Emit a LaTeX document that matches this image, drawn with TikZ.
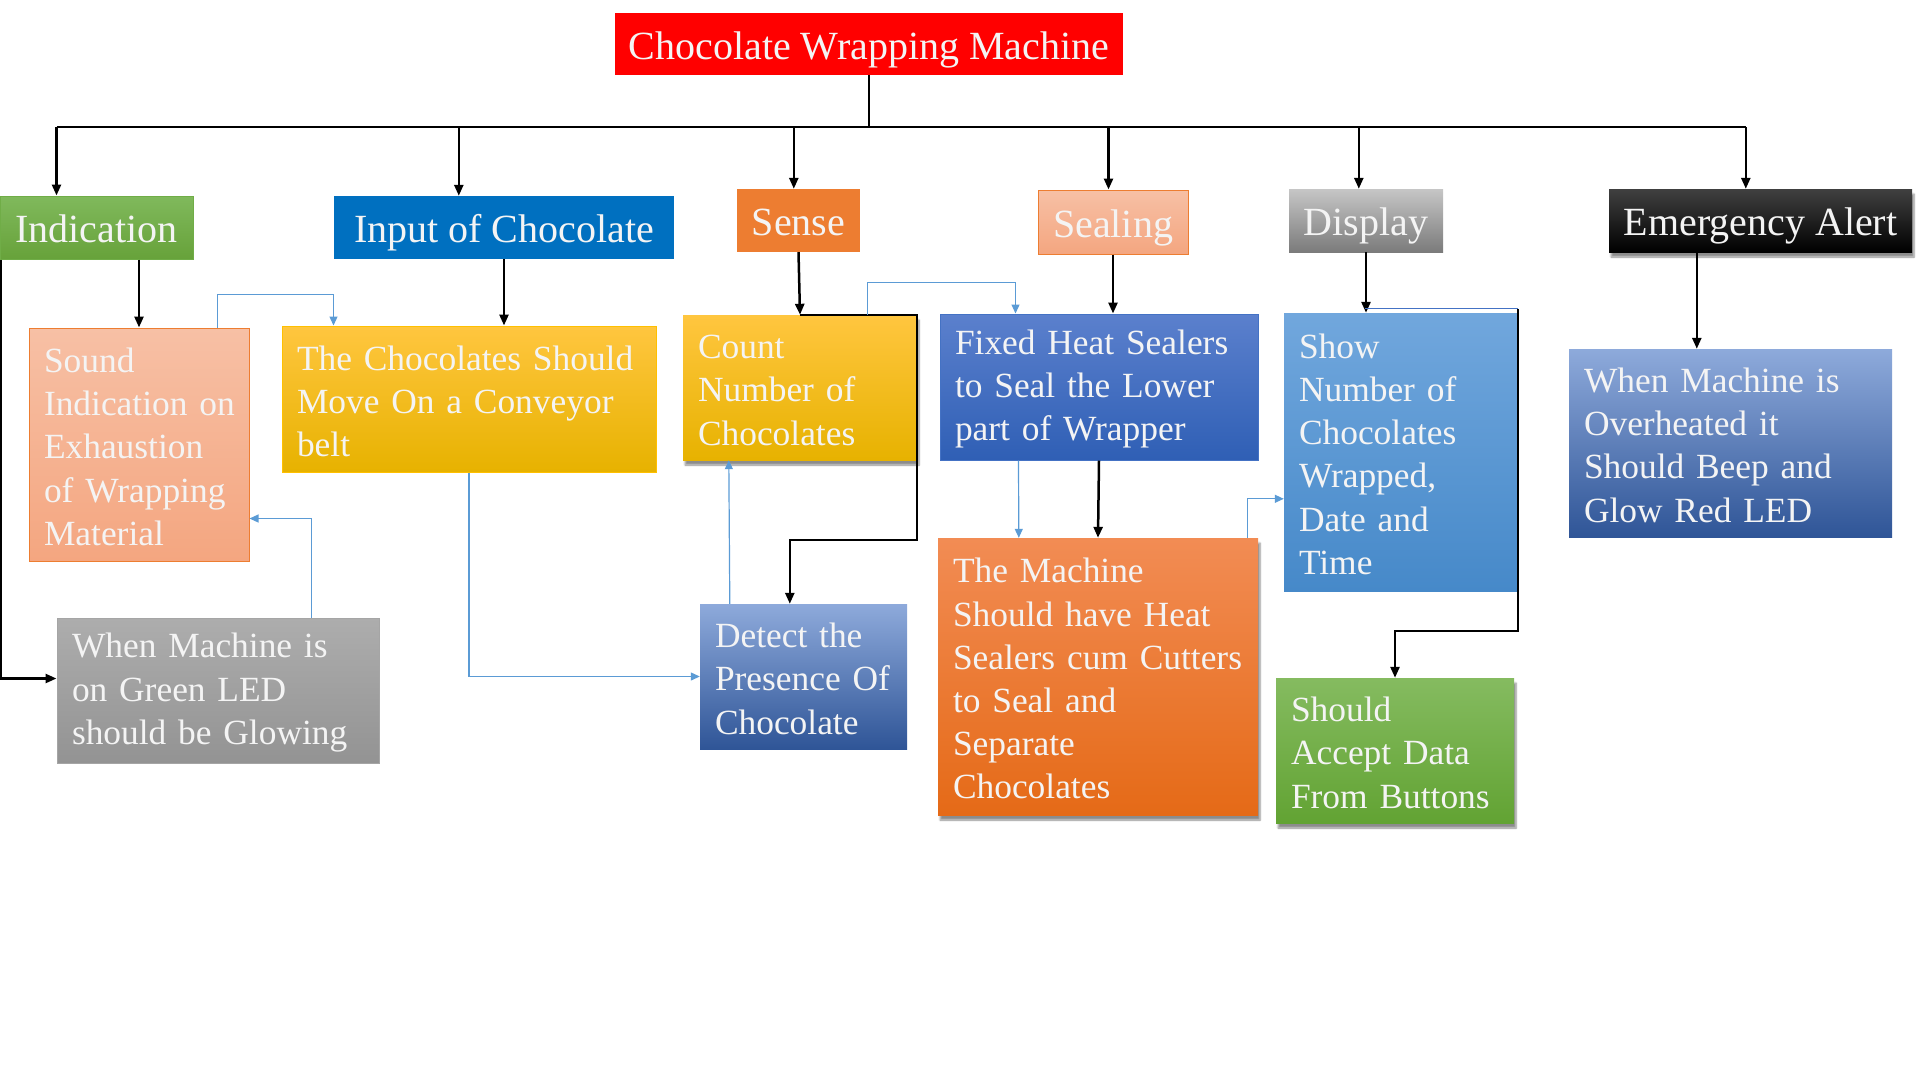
\documentclass[tikz,border=0pt]{standalone}
\usepackage{fontspec}
\setmainfont{Liberation Serif}
\usetikzlibrary{arrows.meta,calc,shadows.blur}
\definecolor{lblue}{HTML}{5B9BD5}
\definecolor{dblue}{HTML}{4472C4}
\definecolor{orgb}{HTML}{ED7D31}
\definecolor{txt}{HTML}{F4F4F4}
\definecolor{grT}{HTML}{80B95C}
\definecolor{grB}{HTML}{67A23A}
\definecolor{grBd}{HTML}{70AD47}
\definecolor{inpC}{HTML}{0070C0}
\definecolor{salT}{HTML}{F7C0A5}
\definecolor{salB}{HTML}{F4A680}
\definecolor{dspT}{HTML}{C6C6C6}
\definecolor{dspB}{HTML}{7B7B7B}
\definecolor{emT}{HTML}{404040}
\definecolor{yelT}{HTML}{FFC63F}
\definecolor{yelB}{HTML}{E7B200}
\definecolor{yelBd}{HTML}{FFC000}
\definecolor{fixT}{HTML}{5B80CD}
\definecolor{fixB}{HTML}{2F5FB5}
\definecolor{shoT}{HTML}{71A7DD}
\definecolor{shoB}{HTML}{4689C9}
\definecolor{ovT}{HTML}{8EAADB}
\definecolor{ovB}{HTML}{2F5597}
\definecolor{gyT}{HTML}{ADADAD}
\definecolor{gyB}{HTML}{939393}
\definecolor{gyBd}{HTML}{A5A5A5}
\definecolor{maT}{HTML}{F28C54}
\definecolor{maB}{HTML}{E56A17}
\definecolor{acT}{HTML}{85BB60}
\definecolor{acB}{HTML}{62A333}
\begin{document}
\begin{tikzpicture}[x=1pt,y=-1pt,
  hdr/.style={inner sep=0pt, text=txt, text height=36pt, text depth=6pt, font=\fontsize{40}{48}\selectfont},
  body/.style={inner xsep=15pt, inner ysep=0pt, text=txt, align=left, font=\fontsize{35.4}{43.2}\selectfont,
    execute at begin node={\rule{0pt}{29pt}}},
  shd/.style={blur shadow={shadow xshift=2pt, shadow yshift=-5pt, shadow blur steps=6, shadow opacity=45}},
  bk/.style={draw=black, line width=2.5pt},
  bka/.style={bk, -{Triangle[length=11pt,width=9pt]}},
  bl/.style={draw=lblue, line width=1.2pt},
  bla/.style={bl, -{Triangle[length=9pt,width=8pt]}},
]
\useasboundingbox (0,0) rectangle (1920,1080);

% headers
\node[hdr, fill=red, minimum width=508pt, minimum height=62pt] (title) at (869,44) {Chocolate Wrapping Machine};
\node[hdr, top color=grT, bottom color=grB, draw=grBd, line width=1pt, minimum width=193pt, minimum height=63pt] (ind) at (96.5,227.5) {Indication};
\node[hdr, fill=inpC, minimum width=340pt, minimum height=63pt] (inp) at (504,227.5) {Input of Chocolate};
\node[hdr, fill=orgb, minimum width=123pt, minimum height=63pt] (sense) at (798.5,220.5) {Sense};
\node[hdr, top color=salT, bottom color=salB, draw=orgb, line width=1pt, minimum width=150pt, minimum height=64pt] (seal) at (1113,222) {Sealing};
\node[hdr, top color=dspT, bottom color=dspB, minimum width=154pt, minimum height=63pt] (disp) at (1366,220.5) {Display};
\node[hdr, shd, top color=emT, bottom color=black, minimum width=303pt, minimum height=63pt] (emerg) at (1760.5,220.5) {Emergency Alert};

% body boxes
\node[body, text width=190pt, minimum height=233pt, top color=salT, bottom color=salB, draw=orgb, line width=1pt] (sound) at (139,444.5)
  {\mbox{Sound}\\\mbox{Indication on}\\\mbox{Exhaustion}\\\mbox{of Wrapping}\\\mbox{Material}};
\node[body, text width=344pt, minimum height=146pt, top color=yelT, bottom color=yelB, draw=yelBd, line width=1pt] (conv) at (469,399)
  {\mbox{The Chocolates Should}\\\mbox{Move On a Conveyor}\\\mbox{belt}};
\node[body, shd, text width=204pt, minimum height=145pt, top color=yelT, bottom color=yelB] (count) at (800,387.5)
  {\mbox{Count}\\\mbox{Number of}\\\mbox{Chocolates}};
\node[body, text width=288pt, minimum height=146pt, top color=fixT, bottom color=fixB, draw=dblue, line width=1pt] (fixed) at (1099,387)
  {\mbox{Fixed Heat Sealers}\\\mbox{to Seal the Lower}\\\mbox{part of Wrapper}};
\node[body, text width=204pt, minimum height=278pt, top color=shoT, bottom color=shoB] (show) at (1401,452)
  {\mbox{Show}\\\mbox{Number of}\\\mbox{Chocolates}\\\mbox{Wrapped,}\\\mbox{Date and}\\\mbox{Time}};
\node[body, text width=293pt, minimum height=188pt, top color=ovT, bottom color=ovB] (over) at (1730.5,443)
  {\mbox{When Machine is}\\\mbox{Overheated it}\\\mbox{Should Beep and}\\\mbox{Glow Red LED}};
\node[body, text width=292pt, minimum height=145pt, top color=gyT, bottom color=gyB, draw=gyBd, line width=1pt] (gray) at (218,690.5)
  {\mbox{When Machine is}\\\mbox{on Green LED}\\\mbox{should be Glowing}};
\node[body, text width=177pt, minimum height=145pt, top color=ovT, bottom color=ovB] (detect) at (803.5,676.5)
  {\mbox{Detect the}\\\mbox{Presence Of}\\\mbox{Chocolate}};
\node[body, shd, text width=290pt, minimum height=277pt, top color=maT, bottom color=maB] (machine) at (1098,676.5)
  {\mbox{The Machine}\\\mbox{Should have Heat}\\\mbox{Sealers cum Cutters}\\\mbox{to Seal and}\\\mbox{Separate}\\\mbox{Chocolates}};
\node[body, shd, text width=208pt, minimum height=145pt, top color=acT, bottom color=acB] (accept) at (1395,750.5)
  {\mbox{Should}\\\mbox{Accept Data}\\\mbox{From Buttons}};

% bus
\coordinate (bus) at (869,127);
\coordinate (tInd) at ($(ind.north west)+(57,0)$);
\coordinate (tInp) at ($(inp.north west)+(125,0)$);
\coordinate (tSense) at ($(sense.north west)+(57,0)$);
\coordinate (tSeal) at ($(seal.north west)+(71,0)$);
\coordinate (tDisp) at ($(disp.north west)+(70,0)$);
\coordinate (tEm) at ($(emerg.north west)+(137,0)$);
\draw[bk] (title.south) -- (bus);
\draw[bk] (tInd |- bus) -- (tEm |- bus);
\foreach \t in {tInd,tInp,tSense,tSeal,tDisp,tEm} {\draw[bka] (\t |- bus) -- (\t);}

% black connectors
\draw[bka] (sound.north |- ind.south) -- (sound.north);
\draw[bka] ($(ind.south west)+(1.5,0)$) |- ($(gray.north west)+(0,61)$);
\draw[bka] (inp.south) -- (inp.south |- conv.north);
\draw[bka] (sense.south) -- (count.north);
\draw[bka] (count.north) -- (count.north east) -- ($(count.north east)+(0,225)$) -| ($(detect.north west)+(90,0)$);
\draw[bka] (seal.south) -- (seal.south |- fixed.north);
\draw[bka] (fixed.south) -- (machine.north);
\draw[bka] (disp.south) -- (disp.south |- show.north);
\draw[bl, draw=dblue] ($(show.north west)+(81,-4)$) -- ($(show.north east)+(0,-4)$);
\draw[bka] ($(show.north east)+(0,-4)$) -- ($(show.north east)+(0,318)$) -| (accept.north);
\draw[bka] ($(emerg.south west)+(88,0)$) -- ($(over.north west)+(128,0)$);

% blue connectors
\draw[bla] ($(sound.north west)+(189,0)$) -- ++(0,-33) -| ($(conv.north west)+(52,0)$);
\draw[bla] ($(gray.north west)+(255,0)$) |- ($(sound.north east)+(0,191)$);
\draw[bla] (conv.south) |- (detect.west);
\draw[bla] ($(detect.north west)+(30,0)$) -- ($(count.south west)+(46,0)$);
\draw[bla] ($(count.north west)+(185,0)$) -- ++(0,-32) -| ($(fixed.north west)+(76,0)$);
\draw[bla] ($(fixed.south west)+(79,0)$) -- ($(machine.north west)+(81,0)$);
\draw[bla] ($(machine.north east)+(-11,0)$) |- ($(show.north west)+(0,186)$);
\end{tikzpicture}
\end{document}
